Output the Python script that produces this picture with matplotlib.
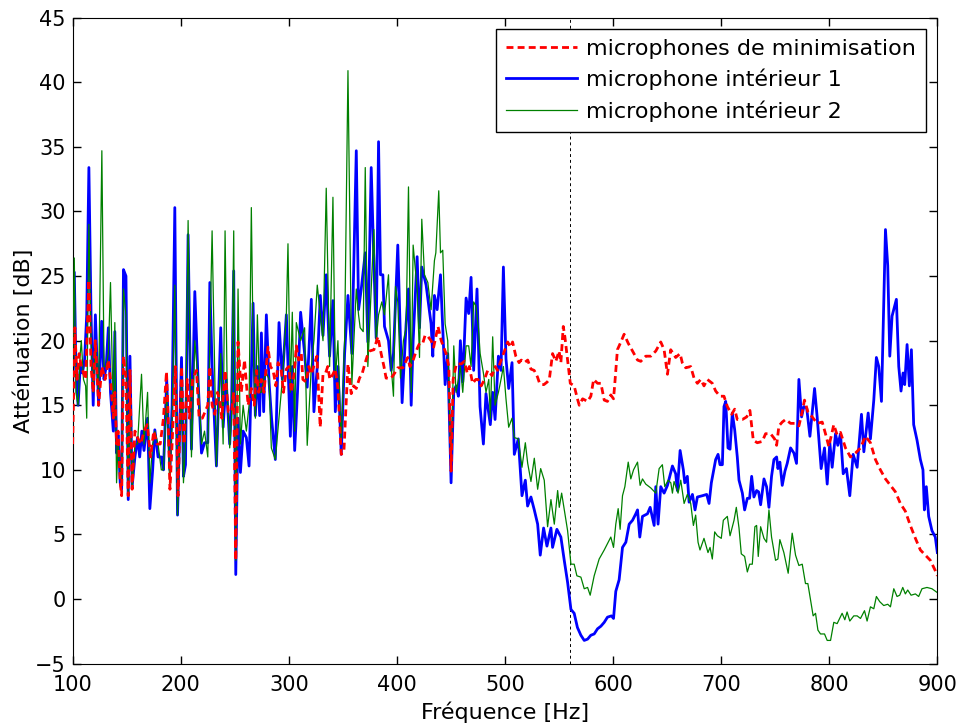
import matplotlib
matplotlib.use('Agg')
import matplotlib.pyplot as plt
import numpy as np

# (frequence Hz, attenuation dB)
minimisation = [
    (100, 12), (102, 21), (104, 17), (106, 19), (108, 18), (110, 17.5), (112, 17),
    (115, 24.7), (117, 18), (119, 16), (121, 20), (124, 15), (127, 18), (130, 17),
    (133, 18.5), (135, 17), (137.6, 14), (139, 16), (140.6, 12), (142, 13), (144, 9),
    (145.3, 8), (147, 18.8), (149.3, 17), (151.4, 8), (153, 17.7), (155, 8.5),
    (157.6, 13), (160, 12.5), (163, 12), (166, 13), (169, 13.5), (172, 11), (175, 13),
    (178, 12), (181, 12), (184, 14), (186.8, 17.6), (188, 15), (190, 8.5), (192, 12),
    (195, 18), (197.5, 8), (200.7, 18), (203, 12), (206, 17), (208, 14), (211, 17),
    (214.5, 17.7), (217, 14), (220, 14), (222, 14.4), (225, 15), (227, 18), (229, 15),
    (231.5, 14.3), (234, 16), (236, 15.4), (238, 14), (241, 17.7), (244, 14.5),
    (247, 14.5), (249, 16), (250.9, 3), (253, 19.9), (256, 16), (259, 18.5),
    (262.3, 15), (265.3, 16.3), (268, 15), (270, 17.7), (272, 16), (274.6, 17),
    (277, 16), (280.7, 19.5), (283, 18), (285.4, 17.7), (288, 16.5), (290, 18.3),
    (293, 17.7), (295, 16), (297.7, 17.8), (300, 18), (302.3, 16), (305, 17.5),
    (307, 19.6), (309, 18.5), (311.5, 19), (313, 17), (316, 16.8), (318.5, 18),
    (320.8, 17.4), (323, 18), (326, 18.8), (329, 13.3), (331.6, 17.4), (334, 17.5),
    (336, 18), (338, 17), (340.8, 17.4), (343, 17.8), (345.4, 16.3), (348.5, 11.2),
    (351, 11.5), (354.7, 18.2), (357.7, 15.9), (360, 16.5), (362.4, 16.3),
    (365.4, 17.1), (368, 17.5), (370.3, 18.2), (372.5, 18.8), (374.7, 19.2),
    (378.7, 19.3), (382.4, 20.3), (385.4, 19), (388, 18), (390, 17.1), (394.7, 17.1),
    (398, 17.5), (400.8, 17.9), (405.5, 17.9), (410, 18.7), (412, 18), (414.7, 18.4),
    (417, 19), (419.3, 19.5), (421, 19.8), (423.9, 19.8), (426, 20.4), (428, 20.4),
    (431.6, 20), (434, 19.5), (438, 21.1), (441, 20), (445.5, 19), (448, 18),
    (450.1, 9.9), (452, 17), (455, 18.2), (459.5, 18.2), (462.4, 18.4), (465, 17.5),
    (467, 18), (470, 16.7), (473, 17), (475, 17), (478, 16.5), (481, 17), (484, 17.7),
    (488, 17.3), (491, 18), (493, 17.7), (497.8, 18.8), (500, 19.3), (502.5, 19.9),
    (505, 19.5), (507, 19.9), (510, 18.8), (513, 18.3), (515, 18.5), (518, 18.3),
    (521, 18.5), (524, 17.8), (527, 17.7), (530, 17.2), (532, 16.7), (534, 16.6),
    (536, 16.6), (539, 16.8), (541, 17), (544, 19), (547, 18.4), (550, 19.2),
    (551.7, 18.3), (553.9, 21.1), (555.4, 20.3), (557.9, 18.5), (560.4, 16.7),
    (564, 16.5), (567, 15.5), (568.7, 15), (571.8, 15.5), (576.4, 15.3), (579.4, 15.7),
    (582, 17), (585.6, 16.7), (588.7, 16.7), (591.8, 15.4), (594.8, 15.3),
    (597.9, 15.8), (600.4, 15.5), (601.6, 16.7), (604, 19.3), (607.2, 19.9),
    (610.2, 20.5), (614, 19.8), (618, 19.2), (622.6, 18.5), (625.6, 18.4),
    (630.2, 18.8), (634.9, 18.8), (639.5, 19.2), (644.1, 19.9), (647.2, 19.3),
    (650.3, 17.4), (653.3, 19.3), (657.9, 18.7), (662, 19), (664, 18.3), (667.2, 17.9),
    (671.8, 18), (674.9, 17.1), (678, 16.7), (681.1, 17), (684.1, 16.5), (687.2, 17),
    (691.8, 16.7), (694.9, 16.1), (698.9, 15.7), (702.6, 15.7), (705.7, 14.9),
    (709.7, 14.3), (712.5, 14.7), (714.9, 13.9), (719.6, 13.9), (723.6, 14.1),
    (726.6, 14.6), (729.7, 12.3), (733.4, 12.1), (738, 12.2), (741.1, 12.8),
    (745.7, 12.8), (749.4, 12.4), (751.3, 11.9), (753.4, 13.4), (756.5, 13.7),
    (759.6, 13.9), (764.2, 13.6), (768.8, 13.6), (771.9, 13.4), (775, 14.5),
    (777.1, 15.4), (780.2, 14.5), (784.2, 14.1), (788.8, 13.6), (793.5, 13.7),
    (796.5, 12.8), (799.6, 11.8), (804.2, 13.5), (807.3, 12.7), (810.4, 12.9),
    (815, 11.7), (819.6, 11), (824.2, 11.3), (828.9, 11.7), (833.5, 12.6),
    (838.1, 12.1), (842.7, 10.8), (847.3, 10), (852, 9.3), (856.6, 8.8), (861.2, 8.3),
    (865.8, 7.4), (870.4, 6.8), (875, 5.7), (879.7, 4.7), (884.3, 3.8), (888.9, 3.4),
    (893.5, 3), (898.1, 2.2), (900, 1.8),
]

interieur1 = [
    (100, 16), (101.5, 25.3), (103, 18), (105, 15), (107, 18), (109, 17.5),
    (111, 18.5), (113, 22), (115, 33.4), (117, 22), (119, 15), (121, 22), (124, 15),
    (126.8, 21.5), (129, 17), (131, 18), (133, 21), (135, 16), (137.6, 13),
    (139, 20.7), (140.6, 11.3), (142, 12.7), (144, 9), (145.3, 8.5), (147, 25.5),
    (149.3, 25), (151.4, 7.7), (153, 18.8), (155, 8.7), (157.6, 11), (160, 12.5),
    (162, 11), (164, 13), (166, 11.5), (169.3, 14), (171.4, 7), (174, 10),
    (176, 13.1), (179, 11), (182, 11), (184, 10), (187, 17), (189.9, 10), (192, 15),
    (194.5, 30.3), (197, 6.5), (200.7, 18.7), (202.5, 9.5), (204.4, 10.4),
    (206.8, 28.2), (209.9, 11.6), (213, 23.8), (216, 17), (219.2, 11.3), (222, 12.1),
    (225, 12.1), (226.9, 24.5), (229, 18), (233, 10.3), (237, 21), (239.2, 13.3),
    (242, 17), (245.3, 12), (247, 15), (249, 25.4), (250.9, 1.9), (253, 14),
    (255.2, 9.8), (257.7, 13), (260.7, 12.5), (263.2, 10.3), (266.9, 22.9),
    (269, 14.2), (271, 18), (273, 14.2), (274.6, 20.6), (276.7, 14.5), (279.2, 22),
    (281.7, 16.8), (284, 14), (287.5, 10.8), (290.9, 21.4), (294, 17), (297.7, 22),
    (301.4, 12.6), (303.2, 18), (305.4, 11.5), (308, 16), (310.9, 22.2), (314.6, 19),
    (317, 16.4), (320.8, 23.2), (323.2, 14.5), (326.3, 18), (329.1, 23.5),
    (331.6, 20.4), (334.6, 25.1), (337.7, 18.8), (340.8, 23.1), (343, 14.5),
    (345.4, 18), (348.5, 11.2), (351.6, 19), (354.7, 23.5), (358.3, 19),
    (362.4, 34.7), (364.5, 22.4), (367, 24), (370.7, 26.8), (373.1, 19.9),
    (376.2, 33.4), (378.7, 26), (380.8, 20.2), (383, 35.4), (384.8, 25.1),
    (387, 25.1), (388.5, 21.1), (392.2, 20), (394.7, 17.7), (396.8, 19),
    (400.8, 27.4), (403.3, 20), (404.8, 15.2), (408.5, 21.3), (410.7, 24),
    (413.2, 15), (415, 20), (418.7, 26.5), (420.9, 21), (423, 25.7), (427, 24.3),
    (431.6, 21.3), (433.2, 18.8), (434.7, 23.5), (437.2, 22.4), (440.3, 25.1),
    (442.4, 21), (444.6, 16.6), (447, 19), (450.1, 9), (452.6, 16.1), (454.7, 16.5),
    (456.9, 15.7), (458.7, 20), (460.9, 16.8), (464, 23.3), (466.4, 22.1),
    (468.6, 24.9), (471, 17.7), (474.1, 24), (476.9, 14.9), (480, 12), (482.4, 15.9),
    (486.4, 13.5), (488.6, 16), (490.8, 13.9), (493.9, 18.8), (496.3, 17.7),
    (498.5, 25.7), (500.9, 18.6), (503.4, 16.3), (506.5, 18.3), (508.6, 11.2),
    (512.3, 12.4), (515.7, 8), (518.8, 9.2), (520.9, 7.2), (524, 7.9), (527.1, 6.9),
    (530.2, 5.8), (532.6, 3.4), (535.7, 5.5), (538.8, 4.1), (542.5, 5.5), (544, 4),
    (548, 5.4), (551.7, 4.8), (554.8, 3), (557.9, 1.3), (561, -0.8), (564, -1.1),
    (567, -2.2), (570.2, -2.8), (573.3, -3.2), (576.4, -3.1), (579.4, -2.8),
    (582.5, -2.7), (585.6, -2.3), (588.7, -2.1), (591.8, -1.8), (594.8, -1.4),
    (598.5, -1.3), (600.4, -1.5), (602.5, 0.6), (605.6, 1.5), (608.7, 4),
    (611.8, 4.4), (614.9, 5.8), (618, 6.1), (621, 6.6), (622.6, 6.9), (624.7, 4.8),
    (627.2, 6.4), (631.8, 6.6), (634.3, 7.1), (638, 5.7), (639.5, 8.7), (641.6, 5.8),
    (644.1, 8.7), (647.2, 8.2), (650.3, 8.8), (654.9, 10.3), (657.9, 9.7),
    (659.5, 8.4), (662, 11.5), (665, 10), (666.3, 9), (668.7, 9.5), (670.3, 7.5),
    (673.4, 8.1), (675.8, 6.9), (678, 7.9), (682.6, 8), (686.6, 8.1), (688.8, 7.4),
    (690.9, 9), (694.9, 10.8), (697.1, 11.2), (698.9, 10.4), (701.1, 10.4),
    (702.6, 14.9), (704.2, 15.3), (706.3, 11.7), (708.2, 11.6), (710.3, 14.4),
    (712.5, 13.1), (714.9, 11), (716.5, 9.2), (719.6, 8.2), (721.7, 6.9),
    (724.2, 7.8), (726.3, 7.8), (728.2, 9.5), (730.3, 7.9), (732.8, 8.4),
    (734.6, 8.3), (736.5, 7.3), (739.6, 9.3), (742, 8.7), (744.2, 7.1), (746.6, 9.5),
    (748.8, 10.8), (751.3, 11), (752.5, 10.1), (754.3, 10.6), (756.5, 8.8),
    (759, 9.9), (761.1, 10.5), (764.2, 11.7), (767.3, 11.3), (769.7, 10.5),
    (771.9, 17), (774.4, 14.1), (776.5, 14.9), (779.1, 14.8), (782.1, 12.6),
    (784.2, 14.4), (786.4, 16.3), (788.8, 14.1), (792.5, 10.1), (795.6, 11.7),
    (798.1, 8.9), (800.5, 12.1), (802.7, 10.2), (805.8, 12.8), (807.9, 11.9),
    (810.4, 12.8), (812.9, 9.7), (815.9, 10.1), (819, 8), (822.1, 11.2),
    (825.8, 10.2), (829.8, 14.3), (832, 11.4), (836, 14.4), (838.1, 12.4),
    (841.2, 15.4), (843.6, 18.7), (845.8, 18), (848.3, 15.3), (852, 28.6),
    (854.1, 25.8), (856, 18.8), (858.1, 21.9), (862.1, 23.2), (864.3, 18),
    (866.4, 16.1), (868.3, 17.5), (869.8, 16.6), (872, 19.7), (874.1, 16.5),
    (876, 19.3), (878.1, 13.5), (881.2, 12.3), (884.3, 10.8), (886.7, 10),
    (888, 6.9), (889.8, 8.7), (892, 6.4), (895, 5.3), (898.1, 4.8), (900, 3.6),
]

interieur2 = [
    (100, 18), (101.5, 26.4), (103, 16), (105, 15), (107, 19), (108, 20), (110, 17),
    (112, 16.5), (113, 14), (115, 29), (117, 20), (119, 16), (121, 20), (124, 16),
    (127, 34.7), (129, 18), (131, 18), (133, 19), (135, 24.5), (137.6, 14),
    (139, 21.4), (140.6, 9), (142, 12), (144, 10), (145.3, 9), (147, 24),
    (149.3, 22), (151.4, 8), (153, 17), (155, 8.5), (157.6, 12), (160, 12),
    (163.7, 17.4), (166, 12), (169.3, 16), (171.4, 9), (174, 12), (176, 13),
    (179, 12), (182, 10), (184, 10), (187, 16), (189.9, 8.7), (192, 14),
    (194.5, 24.3), (197, 6.5), (200.7, 17), (202.5, 9), (204.4, 12), (206.8, 29.3),
    (209.9, 11), (213, 20), (216, 17), (219.2, 12), (222, 13), (225, 11),
    (226.9, 20), (229, 28.5), (233, 10.3), (237, 19), (239.2, 12), (241, 28.5),
    (243, 16), (245.3, 11.7), (247, 14), (249, 28.5), (250.9, 3), (253, 24),
    (255.2, 12), (257.7, 15), (260.7, 13), (263.2, 15), (265.3, 30.3), (266.9, 20),
    (269, 14), (270.9, 22), (273, 16), (274.6, 16), (276.7, 17), (279.2, 17.5),
    (281.7, 17), (283.8, 11.7), (287.5, 10.8), (290.9, 14), (294, 17), (297.7, 22),
    (299.2, 27.5), (301.4, 16), (303.2, 22.2), (305.4, 13), (306.9, 21.4),
    (310.9, 20), (314.6, 21), (317, 11.9), (320.8, 18), (323.2, 20), (326.3, 24.3),
    (329.1, 22), (331.6, 20), (334.6, 31.8), (337.7, 18), (340.8, 31.1), (343, 17),
    (345.4, 20), (348.5, 12), (351.6, 20), (354.7, 40.9), (358.3, 16.6),
    (362.4, 24), (364.5, 22), (366, 21), (368.8, 20.7), (370.7, 33.4), (373.1, 18),
    (376.2, 24), (378.7, 28.6), (380.8, 20), (383, 22), (386, 23), (388.5, 22),
    (392.2, 25.1), (394.7, 18), (396.8, 15.7), (398.7, 24.2), (400.8, 23),
    (403.3, 17.1), (406, 20), (408.5, 21), (410.7, 31.9), (413.2, 16), (415, 27.4),
    (418.7, 24), (420.9, 18.7), (423, 29.4), (425.5, 25.1), (428.6, 24.5),
    (431.6, 22.4), (434.7, 26.2), (436, 26.8), (438.7, 31.6), (440.3, 26.8),
    (442.4, 27), (444.6, 21.3), (447, 20), (450.1, 10), (452.6, 19.6), (454.7, 16),
    (456.9, 17), (458.7, 18), (460.9, 16), (464, 19.6), (466.4, 19.6), (468.6, 18),
    (471, 23), (473, 22.7), (475.4, 21), (477, 19), (480, 17.5), (482.4, 16),
    (485, 17), (486.4, 14), (488.6, 20.3), (490.8, 15), (493.9, 16), (496.3, 17),
    (498.5, 18), (500.9, 15.5), (503.4, 13.3), (506.5, 14), (508.6, 12.5),
    (512.3, 12.4), (515.7, 10.2), (518.8, 12.1), (521, 10.5), (524, 9.1),
    (527.1, 10.9), (530.2, 8.5), (533, 10.1), (536.3, 9.2), (539.4, 5.6),
    (542.5, 7.7), (545.6, 5.8), (548.7, 8.4), (550.2, 7.1), (552.4, 8.2),
    (555.4, 6.6), (557.9, 5.3), (561, 2.7), (564, 2.7), (566.5, 1.8), (570.2, 1.7),
    (573.3, 0.8), (576.4, 0.9), (578.8, 0.3), (582.5, 1.8), (587.1, 3.1),
    (591.8, 3.8), (594.8, 4.3), (597.9, 4.8), (600.4, 4.0), (602.5, 5.8),
    (604.7, 7), (606.5, 5.4), (608.7, 8.0), (610.9, 8.7), (614, 10.6), (616.4, 9.3),
    (618.9, 10), (622.6, 10.6), (625, 8.8), (627.2, 9.3), (630.2, 8.9),
    (634.9, 8.6), (639.5, 8.2), (642.6, 10.1), (645.6, 10.4), (647.8, 8.7),
    (650.9, 9.2), (653.4, 9), (654.9, 8.2), (656.4, 9.1), (660.1, 8.2),
    (662.6, 9.2), (665.7, 7.4), (668.7, 8.1), (671.8, 7.4), (674.3, 5.7),
    (676.4, 6.5), (678.6, 4.4), (680.4, 3.8), (684.1, 4.7), (687.8, 3.6),
    (689.7, 4), (691.8, 3.1), (694, 5.2), (696.5, 4.9), (700.1, 4.7), (702, 6.1),
    (705.7, 6.4), (708.2, 4.9), (711.9, 6.1), (714, 7.1), (716.5, 5.5),
    (718.6, 3.5), (721.7, 3.3), (724.2, 2.1), (726.3, 2.7), (728.8, 2.7),
    (731.2, 5.6), (732.8, 5.7), (734.3, 3.3), (736.5, 5.6), (739.6, 4.7),
    (742, 4.4), (744.2, 6.9), (746.6, 4.8), (750.3, 3), (752.5, 3.1), (754.3, 4.6),
    (758, 3.6), (762, 2), (765.7, 5.1), (768.8, 3.4), (771.9, 2.6), (775, 2.7),
    (778, 1.2), (780.2, 1.2), (782.7, -0.1), (785.1, -1.3), (787.3, -1.1),
    (789.5, -2.4), (791.9, -2.7), (795.6, -2.7), (798.1, -3.2), (801.2, -3.2),
    (804.2, -1.8), (807.3, -1.9), (811.9, -1.1), (814.4, -1.6), (816.5, -1),
    (819, -1.7), (822.7, -1.3), (825.8, -1.3), (828.9, -1.5), (832.6, -0.9),
    (835, -1.7), (838.1, -0.6), (841.2, -0.75), (843.6, 0.2), (846.7, -0.2),
    (850.4, -0.5), (854.1, -0.4), (856.6, -0.6), (859.7, 0.8), (862.7, 0.2),
    (865.2, 0.3), (868, 0.9), (870.4, 0.4), (872.6, 0.7), (875.7, 0.3),
    (879.7, 0.4), (882.7, 0.2), (885.8, 0.8), (890.4, 0.9), (895, 0.8), (900, 0.5),
]

f_limite = 560  # vertical marker

plt.rcParams['font.family'] = 'DejaVu Sans'

fig = plt.figure(figsize=(9.6, 7.27), dpi=100)
ax = fig.add_axes([0.0757, 0.0871, 0.9007, 0.8886])

f_m, a_m = np.array(minimisation).T
f_1, a_1 = np.array(interieur1).T
f_2, a_2 = np.array(interieur2).T

ax.plot(f_m, a_m, color='red', linestyle=(0, (2.5, 1.5)), linewidth=2,
        label='microphones de minimisation', zorder=4)
ax.plot(f_1, a_1, color='blue', linewidth=2, label='microphone intérieur 1', zorder=2)
ax.plot(f_2, a_2, color='green', linewidth=0.9, label='microphone intérieur 2', zorder=3)
ax.axvline(f_limite, color='black', linestyle=(0, (3, 3)), linewidth=0.7, zorder=1)

ax.set_xlim(100, 900)
ax.set_ylim(-5, 45)
ax.set_xticks(np.arange(100, 901, 100))
ax.set_yticks(np.arange(-5, 46, 5))
ax.set_yticklabels([str(v).replace('-', '\u2212') for v in range(-5, 46, 5)])
ax.tick_params(direction='in', top=True, right=True, length=6, width=1, labelsize=15)
ax.tick_params(axis='x', pad=8)
ax.tick_params(axis='y', pad=5)
ax.set_xlabel('Fréquence [Hz]', fontsize=16, labelpad=5)
ax.set_ylabel('Atténuation [dB]', fontsize=16, labelpad=1)

leg = ax.legend(loc='upper right', fontsize=16, fancybox=False, framealpha=1,
                handlelength=3.2, handletextpad=0.4, borderaxespad=0.5,
                borderpad=0.45, labelspacing=0.45)
leg.get_frame().set_edgecolor('black')
leg.get_frame().set_linewidth(1)
leg.set_zorder(10)

plt.savefig('out.png', dpi=100)
plt.close()
